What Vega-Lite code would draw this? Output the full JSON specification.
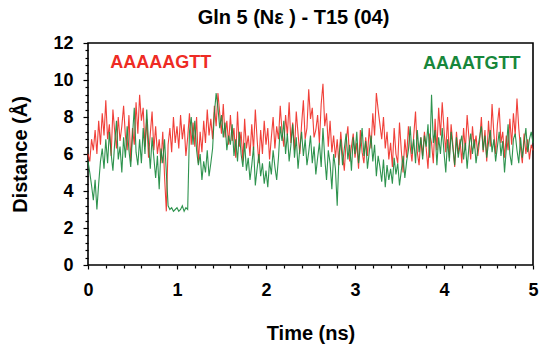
{
  "$schema": "https://vega.github.io/schema/vega-lite/v6.json",
  "autosize": "none",
  "width": 445,
  "height": 222,
  "padding": {"left": 88, "top": 43, "right": 9, "bottom": 79},
  "background": "white",
  "config": {
    "view": {"stroke": "#000", "strokeWidth": 1.6},
    "font": "Liberation Sans",
    "axis": {"domain": false, "grid": false, "tickColor": "#000", "labelColor": "#000", "titleColor": "#000", "labelFont": "Liberation Sans", "titleFont": "Liberation Sans", "labelFontWeight": "bold", "titleFontWeight": "bold", "labelFontSize": 18, "titleFontSize": 20, "labelOverlap": false, "format": "d", "tickCount": 60}
  },
  "title": {"text": "Gln 5 (Nε ) - T15 (04)", "font": "Liberation Sans", "fontSize": 20, "fontWeight": "bold", "color": "#000", "offset": 6, "dx": -17},
  "datasets": {
    "md": [
      {"t":0.00,"r":6.0,"g":5.6},{"t":0.02,"r":5.6,"g":5.0},{"t":0.04,"r":6.8,"g":4.3},{"t":0.06,"r":6.2,"g":3.5},{"t":0.08,"r":7.3,"g":4.6},{"t":0.10,"r":6.0,"g":3.0},{"t":0.12,"r":7.8,"g":4.4},{"t":0.14,"r":6.5,"g":5.6},{"t":0.16,"r":8.2,"g":6.3},{"t":0.18,"r":7.0,"g":5.2},
      {"t":0.20,"r":8.9,"g":6.8},{"t":0.22,"r":6.8,"g":5.5},{"t":0.24,"r":7.6,"g":7.2},{"t":0.26,"r":5.9,"g":6.0},{"t":0.28,"r":8.4,"g":5.1},{"t":0.30,"r":7.2,"g":6.6},{"t":0.32,"r":6.3,"g":7.8},{"t":0.34,"r":8.0,"g":5.7},{"t":0.36,"r":6.7,"g":6.4},{"t":0.38,"r":7.5,"g":5.0},
      {"t":0.40,"r":8.6,"g":6.9},{"t":0.42,"r":7.0,"g":5.8},{"t":0.44,"r":6.2,"g":7.5},{"t":0.46,"r":8.1,"g":6.2},{"t":0.48,"r":5.6,"g":5.3},{"t":0.50,"r":7.4,"g":7.0},{"t":0.52,"r":6.5,"g":8.5},{"t":0.54,"r":8.8,"g":6.1},{"t":0.56,"r":7.1,"g":5.4},{"t":0.58,"r":9.2,"g":6.8},
      {"t":0.60,"r":7.8,"g":5.5},{"t":0.62,"r":8.5,"g":7.4},{"t":0.64,"r":6.4,"g":6.0},{"t":0.66,"r":7.9,"g":8.4},{"t":0.68,"r":5.8,"g":6.6},{"t":0.70,"r":7.1,"g":5.2},{"t":0.72,"r":8.3,"g":6.9},{"t":0.74,"r":6.2,"g":5.8},{"t":0.76,"r":7.5,"g":4.7},{"t":0.78,"r":6.0,"g":5.9},
      {"t":0.80,"r":6.8,"g":4.1},{"t":0.82,"r":5.5,"g":6.3},{"t":0.84,"r":7.2,"g":5.5},{"t":0.86,"r":4.8,"g":6.8},{"t":0.88,"r":2.9,"g":5.0},{"t":0.90,"r":6.5,"g":3.2},{"t":0.92,"r":7.4,"g":3.0},{"t":0.94,"r":6.1,"g":3.1},{"t":0.96,"r":8.0,"g":2.9},{"t":0.98,"r":6.6,"g":3.0},
      {"t":1.00,"r":7.5,"g":3.1},{"t":1.02,"r":6.3,"g":2.9},{"t":1.04,"r":8.1,"g":3.0},{"t":1.06,"r":6.8,"g":3.2},{"t":1.08,"r":7.6,"g":2.9},{"t":1.10,"r":5.9,"g":3.1},{"t":1.12,"r":6.9,"g":3.0},{"t":1.14,"r":8.2,"g":7.2},{"t":1.16,"r":6.5,"g":8.0},{"t":1.18,"r":7.7,"g":6.5},
      {"t":1.20,"r":6.4,"g":7.8},{"t":1.22,"r":8.0,"g":6.2},{"t":1.24,"r":5.5,"g":5.4},{"t":1.26,"r":7.2,"g":6.0},{"t":1.28,"r":6.1,"g":4.6},{"t":1.30,"r":7.8,"g":5.6},{"t":1.32,"r":6.6,"g":5.0},{"t":1.34,"r":8.4,"g":6.2},{"t":1.36,"r":7.0,"g":4.8},{"t":1.38,"r":7.9,"g":5.5},
      {"t":1.40,"r":6.8,"g":6.3},{"t":1.42,"r":8.6,"g":8.2},{"t":1.44,"r":7.5,"g":9.3},{"t":1.46,"r":9.3,"g":8.5},{"t":1.48,"r":8.2,"g":7.4},{"t":1.50,"r":7.1,"g":8.1},{"t":1.52,"r":8.7,"g":6.9},{"t":1.54,"r":6.9,"g":7.7},{"t":1.56,"r":7.8,"g":6.2},{"t":1.58,"r":6.5,"g":7.0},
      {"t":1.60,"r":8.1,"g":6.5},{"t":1.62,"r":6.7,"g":7.6},{"t":1.64,"r":7.4,"g":5.9},{"t":1.66,"r":5.8,"g":6.8},{"t":1.68,"r":8.3,"g":5.6},{"t":1.70,"r":6.4,"g":7.2},{"t":1.72,"r":7.2,"g":6.0},{"t":1.74,"r":5.6,"g":5.3},{"t":1.76,"r":7.9,"g":6.6},{"t":1.78,"r":6.3,"g":5.1},
      {"t":1.80,"r":7.0,"g":5.8},{"t":1.82,"r":5.9,"g":4.6},{"t":1.84,"r":7.6,"g":5.4},{"t":1.86,"r":6.2,"g":6.4},{"t":1.88,"r":8.4,"g":4.3},{"t":1.90,"r":6.8,"g":5.2},{"t":1.92,"r":5.5,"g":6.0},{"t":1.94,"r":7.3,"g":4.8},{"t":1.96,"r":6.0,"g":5.5},{"t":1.98,"r":7.8,"g":4.4},
      {"t":2.00,"r":6.5,"g":5.1},{"t":2.02,"r":7.4,"g":4.2},{"t":2.04,"r":5.7,"g":5.6},{"t":2.06,"r":6.9,"g":4.9},{"t":2.08,"r":8.0,"g":6.2},{"t":2.10,"r":6.3,"g":5.3},{"t":2.12,"r":7.5,"g":4.6},{"t":2.14,"r":6.8,"g":5.8},{"t":2.16,"r":8.6,"g":7.5},{"t":2.18,"r":7.2,"g":6.7},
      {"t":2.20,"r":6.4,"g":7.8},{"t":2.22,"r":8.1,"g":6.0},{"t":2.24,"r":7.0,"g":7.1},{"t":2.26,"r":8.8,"g":5.6},{"t":2.28,"r":6.6,"g":6.5},{"t":2.30,"r":7.7,"g":7.6},{"t":2.32,"r":6.2,"g":5.8},{"t":2.34,"r":8.3,"g":6.9},{"t":2.36,"r":7.1,"g":5.2},{"t":2.38,"r":6.0,"g":6.3},
      {"t":2.40,"r":7.6,"g":7.2},{"t":2.42,"r":8.9,"g":5.9},{"t":2.44,"r":6.8,"g":6.8},{"t":2.46,"r":7.4,"g":5.4},{"t":2.48,"r":9.5,"g":6.1},{"t":2.50,"r":7.9,"g":7.0},{"t":2.52,"r":8.5,"g":5.5},{"t":2.54,"r":6.9,"g":6.4},{"t":2.56,"r":7.3,"g":4.9},{"t":2.58,"r":8.1,"g":5.8},
      {"t":2.60,"r":6.6,"g":6.6},{"t":2.62,"r":8.7,"g":5.3},{"t":2.64,"r":9.8,"g":7.4},{"t":2.66,"r":7.5,"g":5.8},{"t":2.68,"r":8.2,"g":4.6},{"t":2.70,"r":6.4,"g":6.2},{"t":2.72,"r":7.8,"g":5.5},{"t":2.74,"r":6.1,"g":4.1},{"t":2.76,"r":7.0,"g":6.0},{"t":2.78,"r":5.8,"g":5.2},
      {"t":2.80,"r":6.8,"g":3.2},{"t":2.82,"r":5.4,"g":5.9},{"t":2.84,"r":7.2,"g":6.8},{"t":2.86,"r":6.0,"g":5.4},{"t":2.88,"r":5.1,"g":6.3},{"t":2.90,"r":6.7,"g":7.1},{"t":2.92,"r":7.5,"g":5.7},{"t":2.94,"r":5.6,"g":6.5},{"t":2.96,"r":6.4,"g":5.1},{"t":2.98,"r":7.1,"g":6.9},
      {"t":3.00,"r":5.8,"g":6.0},{"t":3.02,"r":6.6,"g":7.2},{"t":3.04,"r":5.2,"g":5.5},{"t":3.06,"r":7.3,"g":6.4},{"t":3.08,"r":6.1,"g":7.4},{"t":3.10,"r":5.5,"g":5.9},{"t":3.12,"r":6.9,"g":6.7},{"t":3.14,"r":5.9,"g":5.2},{"t":3.16,"r":7.4,"g":6.1},{"t":3.18,"r":6.3,"g":7.0},
      {"t":3.20,"r":8.2,"g":5.6},{"t":3.22,"r":7.0,"g":6.5},{"t":3.24,"r":9.3,"g":4.8},{"t":3.26,"r":8.4,"g":5.9},{"t":3.28,"r":7.6,"g":5.3},{"t":3.30,"r":6.8,"g":4.5},{"t":3.32,"r":8.0,"g":5.7},{"t":3.34,"r":6.3,"g":4.2},{"t":3.36,"r":7.2,"g":5.4},{"t":3.38,"r":5.7,"g":4.6},
      {"t":3.40,"r":6.6,"g":5.2},{"t":3.42,"r":5.3,"g":4.4},{"t":3.44,"r":7.4,"g":5.8},{"t":3.46,"r":6.0,"g":4.9},{"t":3.48,"r":5.5,"g":5.5},{"t":3.50,"r":7.7,"g":4.3},{"t":3.52,"r":6.2,"g":5.1},{"t":3.54,"r":5.0,"g":5.9},{"t":3.56,"r":6.8,"g":4.7},{"t":3.58,"r":5.8,"g":5.6},
      {"t":3.60,"r":7.5,"g":6.2},{"t":3.62,"r":6.4,"g":7.5},{"t":3.64,"r":5.6,"g":6.0},{"t":3.66,"r":7.0,"g":6.8},{"t":3.68,"r":8.3,"g":5.5},{"t":3.70,"r":6.1,"g":7.3},{"t":3.72,"r":5.4,"g":6.1},{"t":3.74,"r":6.9,"g":6.9},{"t":3.76,"r":5.9,"g":5.7},{"t":3.78,"r":7.2,"g":7.0},
      {"t":3.80,"r":6.3,"g":6.4},{"t":3.82,"r":5.2,"g":7.6},{"t":3.84,"r":7.1,"g":5.8},{"t":3.86,"r":6.6,"g":9.2},{"t":3.88,"r":5.5,"g":6.6},{"t":3.90,"r":7.9,"g":7.3},{"t":3.92,"r":6.2,"g":5.4},{"t":3.94,"r":8.5,"g":6.9},{"t":3.96,"r":7.0,"g":6.0},{"t":3.98,"r":8.8,"g":7.4},
      {"t":4.00,"r":7.3,"g":6.1},{"t":4.02,"r":6.1,"g":5.0},{"t":4.04,"r":8.0,"g":6.8},{"t":4.06,"r":5.8,"g":5.6},{"t":4.08,"r":7.6,"g":7.2},{"t":4.10,"r":6.5,"g":6.3},{"t":4.12,"r":5.3,"g":5.4},{"t":4.14,"r":7.2,"g":6.9},{"t":4.16,"r":6.0,"g":5.8},{"t":4.18,"r":6.8,"g":6.5},
      {"t":4.20,"r":5.5,"g":7.0},{"t":4.22,"r":7.4,"g":5.7},{"t":4.24,"r":6.2,"g":6.6},{"t":4.26,"r":8.1,"g":5.2},{"t":4.28,"r":6.9,"g":6.4},{"t":4.30,"r":5.7,"g":7.1},{"t":4.32,"r":7.5,"g":6.0},{"t":4.34,"r":6.3,"g":6.8},{"t":4.36,"r":7.0,"g":5.5},{"t":4.38,"r":5.9,"g":6.3},
      {"t":4.40,"r":6.7,"g":6.9},{"t":4.42,"r":8.0,"g":7.5},{"t":4.44,"r":6.1,"g":6.2},{"t":4.46,"r":7.3,"g":7.0},{"t":4.48,"r":5.6,"g":5.8},{"t":4.50,"r":7.8,"g":6.6},{"t":4.52,"r":6.4,"g":7.3},{"t":4.54,"r":8.7,"g":6.1},{"t":4.56,"r":7.1,"g":6.8},{"t":4.58,"r":6.0,"g":5.6},
      {"t":4.60,"r":7.6,"g":6.4},{"t":4.62,"r":8.5,"g":7.2},{"t":4.64,"r":6.6,"g":5.9},{"t":4.66,"r":7.2,"g":6.7},{"t":4.68,"r":5.8,"g":5.0},{"t":4.70,"r":7.0,"g":6.3},{"t":4.72,"r":6.2,"g":7.6},{"t":4.74,"r":7.9,"g":6.0},{"t":4.76,"r":6.5,"g":5.4},{"t":4.78,"r":8.2,"g":6.8},
      {"t":4.80,"r":7.0,"g":7.1},{"t":4.82,"r":9.0,"g":6.2},{"t":4.84,"r":7.4,"g":5.5},{"t":4.86,"r":6.3,"g":6.9},{"t":4.88,"r":5.5,"g":5.8},{"t":4.90,"r":7.1,"g":6.6},{"t":4.92,"r":6.0,"g":7.4},{"t":4.94,"r":6.8,"g":6.1},{"t":4.96,"r":5.7,"g":6.8},{"t":4.98,"r":6.5,"g":7.2},
      {"t":5.00,"r":6.2,"g":6.6}
    ],
    "labels": [
      {"x": 0.25, "y": 10.9, "text": "AAAAAGTT", "series": "r"},
      {"x": 4.86, "y": 10.85, "text": "AAAATGTT", "series": "g"}
    ]
  },
  "layer": [
    {
      "data": {"name": "md"},
      "mark": {"type": "line", "color": "#ee2b24", "strokeWidth": 1.1, "opacity": 0.9},
      "encoding": {
        "x": {"field": "t", "type": "quantitative", "scale": {"domain": [0, 5], "nice": false},
          "axis": {"title": "Time (ns)", "tickCount": 60, "values": [0,0.2,0.4,0.6,0.8,1,1.2,1.4,1.6,1.8,2,2.2,2.4,2.6,2.8,3,3.2,3.4,3.6,3.8,4,4.2,4.4,4.6,4.8,5],
            "labelExpr": "datum.value % 1 === 0 ? datum.label : ''",
            "tickSize": {"condition": {"test": "datum.value % 1 === 0", "value": 4}, "value": 3},
            "tickWidth": 1.2, "labelPadding": 12, "titlePadding": 24, "labelFlush": false}},
        "y": {"field": "r", "type": "quantitative", "scale": {"domain": [0, 12], "nice": false},
          "axis": {"title": "Distance (Å)", "tickCount": 60, "values": [0,0.4,0.8,1.2,1.6,2,2.4,2.8,3.2,3.6,4,4.4,4.8,5.2,5.6,6,6.4,6.8,7.2,7.6,8,8.4,8.8,9.2,9.6,10,10.4,10.8,11.2,11.6,12],
            "labelExpr": "datum.value % 2 === 0 ? datum.label : ''",
            "tickSize": {"condition": {"test": "datum.value % 2 === 0", "value": 5}, "value": 3},
            "tickWidth": 1.2, "labelPadding": 10, "titlePadding": 22, "labelFlush": false}}
      }
    },
    {
      "data": {"name": "md"},
      "mark": {"type": "line", "color": "#17873b", "strokeWidth": 1.1, "opacity": 0.9},
      "encoding": {
        "x": {"field": "t", "type": "quantitative"},
        "y": {"field": "g", "type": "quantitative"}
      }
    },
    {
      "data": {"name": "labels"},
      "transform": [{"filter": "datum.series === 'r'"}],
      "mark": {"type": "text", "fontSize": 18, "fontWeight": "bold", "font": "Liberation Sans", "baseline": "middle", "align": "left", "color": "#ee2b24"},
      "encoding": {
        "x": {"field": "x", "type": "quantitative"},
        "y": {"field": "y", "type": "quantitative"},
        "text": {"field": "text"}
      }
    },
    {
      "data": {"name": "labels"},
      "transform": [{"filter": "datum.series === 'g'"}],
      "mark": {"type": "text", "fontSize": 18, "fontWeight": "bold", "font": "Liberation Sans", "baseline": "middle", "align": "right", "color": "#17873b"},
      "encoding": {
        "x": {"field": "x", "type": "quantitative"},
        "y": {"field": "y", "type": "quantitative"},
        "text": {"field": "text"}
      }
    }
  ]
}
